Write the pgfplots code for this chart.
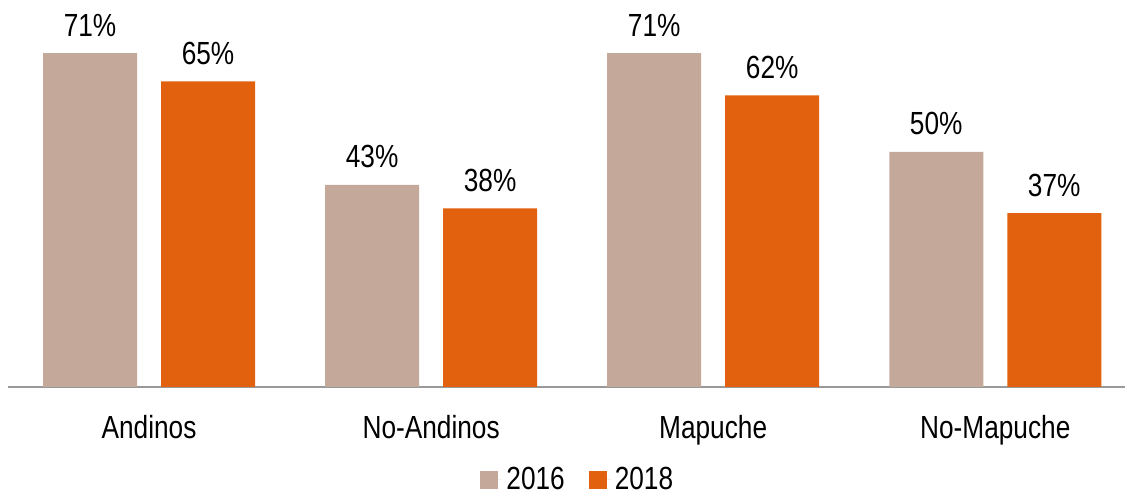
\documentclass[border=0pt]{standalone}
\usepackage{pgfplots}
\pgfplotsset{compat=1.18}
\usepackage{fontspec}
\setmainfont{Liberation Sans}[FakeStretch=0.82]
\definecolor{c2016}{HTML}{C4A99A}
\definecolor{c2018}{HTML}{E2610F}
\newcommand{\lbl}{\fontsize{16}{19}\selectfont}
\begin{document}
\begin{tikzpicture}
\begin{axis}[
  at={(4pt,55pt)}, anchor=south west,
  scale only axis,
  width=558.5pt, height=193.5pt,
  xmin=-0.5, xmax=3.46, ymin=0, ymax=82.3,
  ybar=12pt, bar width=47pt,
  axis y line=none,
  axis x line=bottom,
  x axis line style={-, draw=black!40, line width=1pt},
  xtick={0,1,2,3},
  xticklabels={Andinos,No-Andinos,Mapuche,No-Mapuche},
  major tick length=0pt,
  xticklabel style={font=\lbl, anchor=base, yshift=-26pt},
  /pgf/number format/assume math mode=true,
  nodes near coords={\pgfmathprintnumber[fixed,precision=0]{\pgfplotspointmeta}\%},
  every node near coord/.append style={font=\lbl, text=black, anchor=base, yshift=8.5pt},
  legend style={at={(axis description cs:0.511,-0.24)}, anchor=center, draw=none,
    font=\lbl, legend columns=2,
    /tikz/every even column/.append style={column sep=10pt}},
  legend image code/.code={\fill[#1] (0pt,-4.5pt) rectangle (9pt,4.5pt);
    \path (0pt,0pt) -- (11pt,0pt);},
  clip=false,
]
\addplot[fill=c2016, draw=none] coordinates {(0,71) (1,43) (2,71) (3,50)};
\addplot[fill=c2018, draw=none] coordinates {(0,65) (1,38) (2,62) (3,37)};
\legend{2016,2018}
\end{axis}
\pgfresetboundingbox
\useasboundingbox (0,0) rectangle (562.5pt,248.5pt);
\end{tikzpicture}
\end{document}
